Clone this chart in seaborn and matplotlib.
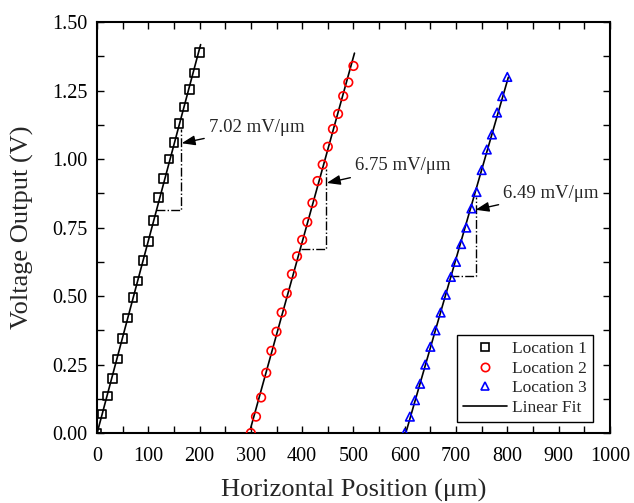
import numpy as np
import pandas as pd
import matplotlib
matplotlib.use('Agg')
import matplotlib.pyplot as plt
import seaborn as sns
from matplotlib.lines import Line2D
from matplotlib.ticker import MultipleLocator, FormatStrFormatter

# --- dados ---
pos_loc1 = np.arange(0, 201, 10)
pos_loc2 = np.arange(300, 501, 10)
pos_loc3 = np.arange(600, 801, 10)

volt_loc1 = [0.00, 0.07, 0.135, 0.20, 0.27, 0.345, 0.42, 0.495, 0.555, 0.63, 0.70,
             0.775, 0.86, 0.93, 1.00, 1.06, 1.13, 1.19, 1.255, 1.315, 1.39]
volt_loc2 = [0.00, 0.06, 0.13, 0.22, 0.30, 0.37, 0.44, 0.51, 0.58, 0.645, 0.705,
             0.77, 0.84, 0.92, 0.98, 1.045, 1.11, 1.165, 1.23, 1.28, 1.34]
volt_loc3 = [0.00, 0.06, 0.12, 0.18, 0.25, 0.315, 0.375, 0.44, 0.505, 0.57, 0.625,
             0.69, 0.75, 0.82, 0.88, 0.96, 1.035, 1.09, 1.17, 1.23, 1.30]

labels = ['Location 1', 'Location 2', 'Location 3']
cores = ['black', 'red', 'blue']
marcadores = ['s', 'o', '^']

# triângulos de inclinação e anotações
slope_text = ['7.02 mV/\u03bcm', '6.75 mV/\u03bcm', '6.49 mV/\u03bcm']
tri_x0 = [116, 398, 689]
tri_x1 = [163, 447, 738]
tri_base = [0.815, 0.673, 0.575]
tri_top = [1.11, 0.965, 0.86]
seta_x = [165, 448, 738]
seta_y = [1.058, 0.913, 0.815]
texto_x = [218, 503, 792]
texto_y = [1.116, 0.975, 0.876]

df = pd.DataFrame({
    'pos': np.concatenate([pos_loc1, pos_loc2, pos_loc3]),
    'volt': volt_loc1 + volt_loc2 + volt_loc3,
    'loc': [labels[0]] * 21 + [labels[1]] * 21 + [labels[2]] * 21,
})

# --- estilo ---
sns.set_style('ticks')
plt.rcParams['font.family'] = ['Liberation Serif', 'DejaVu Serif']

fig = plt.figure(figsize=(6.34, 5.03), dpi=100)
ax = fig.add_axes([0.153, 0.139, 0.809, 0.817])

# retas de ajuste linear
for loc in labels:
    sub = df[df['loc'] == loc]
    coef = np.polyfit(sub['pos'], sub['volt'], 1)
    xs = np.array([sub['pos'].min() - 1, sub['pos'].max() + 2])
    ax.plot(xs, np.polyval(coef, xs), color='black', lw=1.2, zorder=2)

sns.scatterplot(data=df, x='pos', y='volt', hue='loc', style='loc',
                palette=dict(zip(labels, cores)), markers=dict(zip(labels, marcadores)),
                s=38, linewidth=1.2, legend=False, ax=ax, zorder=3)

# marcadores vazados: borda com a cor da série
for coll in ax.collections:
    fc = coll.get_facecolors()
    coll.set_edgecolors(fc)
    coll.set_facecolor('none')

for i in range(3):
    ax.plot([tri_x0[i], tri_x1[i], tri_x1[i]], [tri_base[i], tri_base[i], tri_top[i]],
            color='black', ls='-.', lw=1.0, zorder=1)
    ax.annotate(slope_text[i], xy=(seta_x[i], seta_y[i]), xytext=(texto_x[i], texto_y[i]),
                fontsize=13.5, ha='left', va='center',
                arrowprops=dict(arrowstyle='-|>,head_length=0.6,head_width=0.22',
                                color='black', lw=1.0, shrinkA=1, shrinkB=0))

ax.set_xlim(0, 1000)
ax.set_ylim(0, 1.5)
ax.xaxis.set_major_locator(MultipleLocator(100))
ax.xaxis.set_minor_locator(MultipleLocator(50))
ax.yaxis.set_major_locator(MultipleLocator(0.25))
ax.yaxis.set_minor_locator(MultipleLocator(0.125))
ax.yaxis.set_major_formatter(FormatStrFormatter('%.2f'))
ax.tick_params(which='both', direction='in', top=True, right=True, length=5,
               width=1.0, labelsize=14.5, colors='black')
ax.tick_params(axis='x', which='major', pad=10)
ax.tick_params(axis='y', which='major', pad=7)
for sp in ax.spines.values():
    sp.set_linewidth(1.5)
    sp.set_color('black')

ax.set_xlabel('Horizontal Position (\u03bcm)', fontsize=19, labelpad=9)
ax.set_ylabel('Voltage Output (V)', fontsize=19, labelpad=13)

handles = [Line2D([], [], ls='none', marker=m, markerfacecolor='none', markeredgecolor=c,
                  markersize=6, markeredgewidth=1.2) for m, c in zip(marcadores, cores)]
handles.append(Line2D([], [], color='black', lw=1.2))
leg = ax.legend(handles, labels + ['Linear Fit'], loc='lower right', fontsize=12.5,
                frameon=True, fancybox=False, edgecolor='black', framealpha=1,
                handlelength=2.5, handletextpad=0.3, borderpad=0.35,
                labelspacing=0.2, borderaxespad=0,
                bbox_to_anchor=(0.967, 0.027))
leg.get_frame().set_linewidth(1.0)

fig.savefig('out.png', dpi=100)
